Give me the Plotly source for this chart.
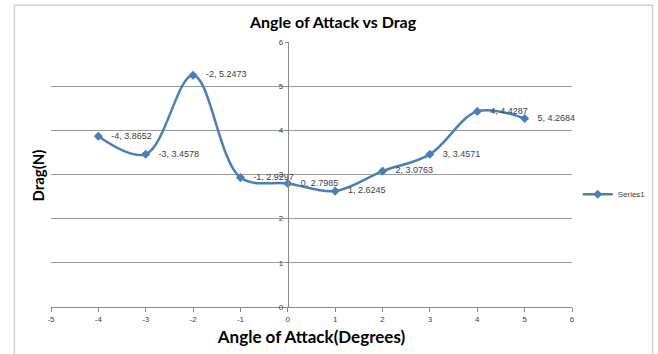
import plotly.graph_objects as go

angle = [-4, -3, -2, -1, 0, 1, 2, 3, 4, 5]
drag = [3.8652, 3.4578, 5.2473, 2.9297, 2.7985, 2.6245, 3.0763, 3.4571, 4.4287, 4.2684]
labels = [f"   {a}, {d}" for a, d in zip(angle, drag)]
x_ticks = [-5, -4, -3, -2, -1, 0, 1, 2, 3, 4, 5, 6]
y_ticks = [0, 1, 2, 3, 4, 5, 6]

blue = "#4A7EBB"
W, H = 658, 354
L, R, T, B = 50.7, 572.3, 41.7, 306.7

fig = go.Figure()
fig.add_trace(go.Scatter(
    x=angle, y=drag, name="Series1",
    mode="lines+markers+text",
    line=dict(color=blue, width=2.5, shape="spline", smoothing=1.0),
    marker=dict(symbol="diamond", size=7, color=blue),
    text=labels, textposition="middle right",
    textfont=dict(family="Liberation Sans", size=9, color="#404040"),
    cliponaxis=False,
))

def px_to_paper_x(px):
    return (px - L) / (R - L)

def px_to_paper_y(py):
    return (B - py) / (B - T)

fig.update_layout(
    width=W, height=H,
    margin=dict(l=L, r=W - R, t=T, b=H - B, pad=0, autoexpand=False),
    paper_bgcolor="white", plot_bgcolor="white",
    showlegend=True,
    legend=dict(x=px_to_paper_x(578), y=px_to_paper_y(194), xanchor="left", yanchor="middle",
                font=dict(family="Liberation Sans", size=8, color="#404040"),
                bgcolor="rgba(0,0,0,0)", itemwidth=30, tracegroupgap=0),
    xaxis=dict(range=[-5, 6], tickvals=x_ticks, ticktext=[str(v) for v in x_ticks],
               showgrid=False, zeroline=False, showline=True, linecolor="#888888", linewidth=1,
               ticks="outside", ticklen=4, tickcolor="#888888",
               tickfont=dict(family="Liberation Sans", size=8, color="#404040"),
               title=dict(text="<b>Angle of Attack(Degrees)</b>", standoff=8,
                          font=dict(family="Lato", size=17, color="black"))),
    yaxis=dict(range=[0, 6], tickvals=y_ticks, ticktext=[str(v) for v in y_ticks],
               anchor="free", position=5 / 11,
               showgrid=True, gridcolor="#9A9A9A", gridwidth=1,
               zeroline=False, showline=True, linecolor="#888888", linewidth=1,
               ticks="outside", ticklen=3, tickcolor="#888888",
               tickfont=dict(family="Liberation Sans", size=8, color="#404040")),
    shapes=[dict(type="rect", xref="paper", yref="paper",
                 x0=px_to_paper_x(14), x1=px_to_paper_x(653),
                 y0=px_to_paper_y(360), y1=px_to_paper_y(5),
                 line=dict(color="#D0D0D0", width=1.5), fillcolor="rgba(0,0,0,0)", layer="below")],
    annotations=[
        dict(text="<b>Angle of Attack vs Drag</b>", xref="paper", yref="paper",
             x=px_to_paper_x(333), y=px_to_paper_y(21), showarrow=False,
             xanchor="center", yanchor="middle",
             font=dict(family="Lato", size=16, color="black")),
        dict(text="<b>Drag(N)</b>", xref="paper", yref="paper",
             x=px_to_paper_x(38), y=px_to_paper_y(175), textangle=-90,
             showarrow=False, xanchor="center", yanchor="middle",
             font=dict(family="Lato", size=15, color="black")),
    ],
)

fig.write_html("out.html")
